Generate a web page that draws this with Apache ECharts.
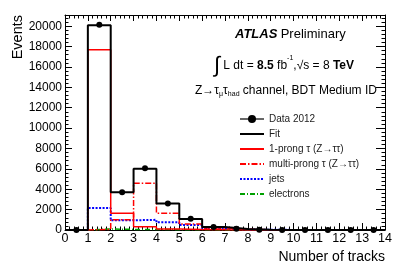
<!DOCTYPE html>
<html>
<head>
<meta charset="utf-8">
<script src="https://cdn.jsdelivr.net/npm/echarts@6/dist/echarts.min.js"></script>
<style>html,body{margin:0;padding:0;background:#fff;}#c{width:405px;height:275px;}</style>
</head>
<body>
<div id="c"></div>
<script>
// Bin left edges (number of tracks) and per-bin values
var binEdges = [0,1,2,3,4,5,6,7,8,9,10,11,12,13,14];
var dataCounts = [0, 20150, 3700, 6050, 2600, 1100, 300, 120, 20, 5, 0, 0, 0, 0];
var fitCounts = [0, 20100, 3700, 6000, 2600, 1080, 290, 100, 30, 10, 5, 0, 0, 0];
var oneProng = [0, 17700, 1650, 330, 100, 50, 20, 10, 0, 0, 0, 0, 0, 0];
var multiProng = [0, 60, 1000, 4600, 1650, 580, 200, 70, 20, 5, 0, 0, 0, 0];
var jets = [0, 2150, 950, 1000, 750, 480, 150, 60, 20, 10, 0, 0, 0, 0];
var electrons = [0, 100, 60, 60, 30, 20, 10, 5, 0, 0, 0, 0, 0, 0];
var xTicks = [0,1,2,3,4,5,6,7,8,9,10,11,12,13,14];
var yTicks = [0,2000,4000,6000,8000,10000,12000,14000,16000,18000,20000];

function stepData(vals){
  var out = [];
  for (var i=0;i<vals.length;i++) out.push([binEdges[i], vals[i]]);
  out.push([binEdges[vals.length], vals[vals.length-1]]);
  return out;
}
function pointData(vals){
  return vals.map(function(v,i){ return [(binEdges[i]+binEdges[i+1])/2, v]; });
}

var FONT = 'Liberation Sans';
var chart = echarts.init(document.getElementById('c'), null, {renderer:'canvas'});
var xMax = 14, yMax = 21100;
var axisBase = {
  type:'value', min:0, max:xMax, interval:1,
  axisLine:{show:true, onZero:false, lineStyle:{color:'#000', width:1}},
  axisTick:{show:true, inside:true, length:7, lineStyle:{color:'#000', width:1}},
  minorTick:{show:true, splitNumber:5, length:3.5, lineStyle:{color:'#000', width:1}},
  splitLine:{show:false}
};
var yBase = {
  type:'value', min:0, max:yMax, interval:2000,
  axisLine:{show:true, onZero:false, lineStyle:{color:'#000', width:1}},
  axisTick:{show:true, inside:true, length:7, lineStyle:{color:'#000', width:1}},
  minorTick:{show:true, splitNumber:5, length:3.5, lineStyle:{color:'#000', width:1}},
  splitLine:{show:false}
};
var noSym = {opacity:0};

var option = {
  animation:false,
  backgroundColor:'#fff',
  textStyle:{fontFamily:FONT},
  grid:{left:65, right:20, top:15, bottom:45, containLabel:false},
  xAxis:[
    Object.assign({}, axisBase, {position:'bottom',
      name:'Number of tracks', nameLocation:'end', nameGap:0,
      nameTextStyle:{fontFamily:FONT, fontSize:14, color:'#000', align:'right', verticalAlign:'top', padding:[20,0,0,0]},
      axisLabel:{show:true, fontFamily:FONT, fontSize:12.5, color:'#000', margin:2,
        formatter:function(v){ return xTicks.indexOf(v)>=0 ? String(v) : ''; }}}),
    Object.assign({}, axisBase, {position:'top', axisLabel:{show:false}, axisTick:{show:true, inside:true, length:6, lineStyle:{color:'#000'}}})
  ],
  yAxis:[
    Object.assign({}, yBase, {position:'left',
      name:'Events', nameLocation:'end', nameRotate:90, nameGap:0,
      nameTextStyle:{fontFamily:FONT, fontSize:14.5, color:'#000', align:'right', verticalAlign:'bottom', padding:[0,0,40,0]},
      axisLabel:{show:true, fontFamily:FONT, fontSize:12, color:'#000', margin:3,
        formatter:function(v){ return yTicks.indexOf(v)>=0 ? String(v) : ''; }}}),
    Object.assign({}, yBase, {position:'right', axisLabel:{show:false}, axisTick:{show:true, inside:true, length:9, lineStyle:{color:'#000'}}})
  ],
  legend:{
    orient:'vertical', left:234, top:109, itemWidth:24, itemHeight:10, itemGap:5,
    textStyle:{fontFamily:FONT, fontSize:10, color:'#222', lineHeight:10},
    data:[
      {name:'Data 2012', lineStyle:{opacity:1, width:1.2, color:'#000'}},
      {name:'Fit', itemStyle:noSym},
      {name:'1-prong τ (Z→ττ)', itemStyle:noSym},
      {name:'multi-prong τ (Z→ττ)', itemStyle:noSym},
      {name:'jets', itemStyle:noSym},
      {name:'electrons', itemStyle:noSym}
    ]
  },
  series:[
    {name:'electrons', type:'line', step:'end', showSymbol:false, symbol:'none', data:stepData(electrons),
      lineStyle:{color:'#00a000', width:1.5, type:[5,2,1,2]}, itemStyle:{color:'#00a000'}, z:2},
    {name:'jets', type:'line', step:'end', showSymbol:false, symbol:'none', data:stepData(jets),
      lineStyle:{color:'#0000ff', width:2, type:[2,1.5]}, itemStyle:{color:'#0000ff'}, z:3},
    {name:'multi-prong τ (Z→ττ)', type:'line', step:'end', showSymbol:false, symbol:'none', data:stepData(multiProng),
      lineStyle:{color:'#ff0000', width:1.5, type:[6,2,1.5,2]}, itemStyle:{color:'#ff0000'}, z:4},
    {name:'1-prong τ (Z→ττ)', type:'line', step:'end', showSymbol:false, symbol:'none', data:stepData(oneProng),
      lineStyle:{color:'#ff0000', width:1.5}, itemStyle:{color:'#ff0000'}, z:5},
    {name:'Fit', type:'line', step:'end', showSymbol:false, symbol:'none', data:stepData(fitCounts),
      lineStyle:{color:'#000', width:2}, itemStyle:{color:'#000'}, z:6},
    {name:'Data 2012', type:'line', symbol:'circle', symbolSize:6, showSymbol:true, data:pointData(dataCounts),
      lineStyle:{opacity:0, width:1}, itemStyle:{color:'#000'}, z:7}
  ],
  graphic:[
    {type:'text', left:235, top:28, style:{
      text:'{b|ATLAS} {n|Preliminary}',
      rich:{b:{fontFamily:FONT, fontSize:13, fontWeight:'bold', fontStyle:'italic', fill:'#000'},
            n:{fontFamily:FONT, fontSize:13, fill:'#000'}}}},
    {type:'text', left:214, top:55, style:{
      text:'{i|∫}{n| L dt = }{bd|8.5}{n| fb}{sp|-1}{n|,√s = 8 }{bd|TeV}',
      rich:{i:{fontFamily:FONT, fontSize:22, fill:'#000', verticalAlign:'bottom'},
            n:{fontFamily:FONT, fontSize:12, fill:'#000'},
            bd:{fontFamily:FONT, fontSize:12, fill:'#000', fontWeight:'bold'},
            sp:{fontFamily:FONT, fontSize:7, fill:'#000', verticalAlign:'top', padding:[0,0,8,0]}}}},
    {type:'text', left:195, top:85, style:{
      text:'{n|Z→τ}{sb|μ}{n|τ}{sb|had}{n| channel, BDT Medium ID}',
      rich:{n:{fontFamily:FONT, fontSize:12, fill:'#000'},
            sb:{fontFamily:FONT, fontSize:7, fill:'#000', padding:[6,0,0,0]}}}}
  ]
};
chart.setOption(option);
</script>
</body>
</html>
